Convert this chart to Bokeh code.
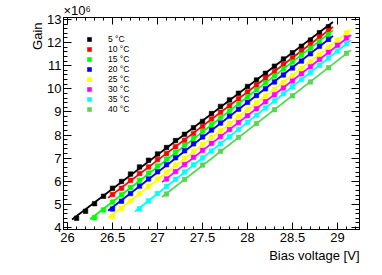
import numpy as np
from bokeh.plotting import figure
from bokeh.models import (Range1d, LinearAxis, FixedTicker, Legend,
                          LegendItem, Title)
from bokeh.embed import file_html
from bokeh.resources import INLINE

# ---------------- data ----------------
temperatures = ["5 °C", "10 °C", "15 °C", "20 °C", "25 °C", "30 °C", "35 °C", "40 °C"]
colors = ["#000000", "#ff0000", "#00ff00", "#0000ff", "#ffff00", "#ff00ff", "#00ffff", "#59d454"]

bias_grid = [26.1, 26.2, 26.3, 26.4, 26.5, 26.6, 26.7, 26.8, 26.9, 27.0,
             27.1, 27.2, 27.3, 27.4, 27.5, 27.6, 27.7, 27.8, 27.9, 28.0,
             28.1, 28.2, 28.3, 28.4, 28.5, 28.6, 28.7, 28.8, 28.9, 29.0, 29.1]

gain_5C = [4.40, 4.70, 5.03, 5.35, 5.70, 5.99, 6.31, 6.62, 6.91, 7.18,
           7.46, 7.76, 8.03, 8.32, 8.59, 8.93, 9.24, 9.52, 9.81, 10.10,
           10.38, 10.67, 10.98, 11.29, 11.56, 11.84, 12.11, 12.43, 12.69]
gain_10C = [5.43, 5.70, 6.04, 6.34, 6.62, 6.94, 7.20, 7.49, 7.77, 8.07,
            8.37, 8.70, 8.99, 9.27, 9.57, 9.86, 10.16, 10.46, 10.75, 11.06,
            11.35, 11.63, 11.93, 12.25, 12.52]
gain_15C = [4.42, 4.76, 5.10, 5.42, 5.73, 6.04, 6.36, 6.66, 6.96, 7.26,
            7.56, 7.86, 8.16, 8.46, 8.76, 9.06, 9.36, 9.66, 9.96, 10.26,
            10.56, 10.86, 11.16, 11.46, 11.76, 12.06, 12.35]
gain_20C = [4.80, 5.14, 5.47, 5.79, 6.10, 6.41, 6.72, 7.02, 7.32, 7.62,
            7.92, 8.22, 8.52, 8.82, 9.12, 9.42, 9.71, 10.00, 10.30, 10.60,
            10.90, 11.20, 11.52, 11.84, 12.14]
gain_25C = [4.48, 4.82, 5.15, 5.47, 5.79, 6.10, 6.40, 6.70, 7.00, 7.30,
            7.60, 7.90, 8.20, 8.50, 8.80, 9.10, 9.40, 9.69, 9.98, 10.28,
            10.58, 10.88, 11.18, 11.49, 11.80, 12.11, 12.42]
gain_30C = [6.10, 6.42, 6.73, 7.04, 7.34, 7.64, 7.94, 8.24, 8.54, 8.84,
            9.14, 9.44, 9.74, 10.04, 10.34, 10.65, 10.96, 11.27, 11.58, 11.89, 12.20]
gain_35C = [4.81, 5.15, 5.47, 5.78, 6.09, 6.40, 6.71, 7.01, 7.31, 7.62,
            7.93, 8.24, 8.55, 8.86, 9.17, 9.48, 9.79, 10.09, 10.40, 10.71,
            11.02, 11.33, 11.64, 11.95]
bias_40C = [27.1, 27.3, 27.5, 27.7, 27.9, 28.1, 28.3, 28.5, 28.7, 28.9, 29.1]
gain_40C = [5.45, 6.08, 6.70, 7.30, 7.90, 8.50, 9.10, 9.70, 10.30, 10.91, 11.54]

first_bias = [26.1, 26.5, 26.3, 26.5, 26.5, 27.1, 26.8]
gains = [gain_5C, gain_10C, gain_15C, gain_20C, gain_25C, gain_30C, gain_35C]

x_ticks = [26, 26.5, 27, 27.5, 28, 28.5, 29]
x_tick_labels = ["26", "26.5", "27", "27.5", "28", "28.5", "29"]
y_ticks = [4, 5, 6, 7, 8, 9, 10, 11, 12, 13]
y_tick_labels = ["4", "5", "6", "7", "8", "9", "10", "11", "12", "13"]

series_x = []
for fb, g in zip(first_bias, gains):
    i0 = bias_grid.index(fb)
    series_x.append(bias_grid[i0:i0 + len(g)])
series_x.append(bias_40C)
gains.append(gain_40C)

# ---------------- figure ----------------
FONT = "Liberation Sans"
p = figure(width=374, height=267, output_backend="svg", toolbar_location=None,
           x_range=Range1d(25.955, 29.245), y_range=Range1d(3.913, 13.087),
           x_axis_location=None, y_axis_location=None,
           min_border_left=63, min_border_right=15, min_border_top=17, min_border_bottom=38)
p.grid.visible = False
p.outline_line_color = "black"
p.outline_line_width = 1
p.background_fill_color = "white"
p.border_fill_color = "white"

x_minor = [round(25.9 + 0.1 * k, 1) for k in range(0, 35)]
y_minor = [round(3.8 + 0.2 * k, 1) for k in range(0, 48)]


def make_axis(ticks, minor, labels, tick_in, show_labels):
    ax = LinearAxis(ticker=FixedTicker(ticks=ticks, minor_ticks=minor))
    ax.axis_line_color = "black"
    ax.major_tick_line_color = "black"
    ax.minor_tick_line_color = "black"
    ax.major_tick_in = tick_in
    ax.major_tick_out = 0
    ax.minor_tick_in = tick_in // 2
    ax.minor_tick_out = 0
    if show_labels:
        ax.major_label_overrides = {t: l for t, l in zip(ticks, labels)}
        ax.major_label_text_font = FONT
        ax.major_label_text_font_size = "13px"
        ax.major_label_text_color = "black"
    else:
        ax.major_label_text_font_size = "0px"
        ax.major_label_standoff = 0
    return ax


xb = make_axis(x_ticks, x_minor, x_tick_labels, 7, True)
xb.major_label_standoff = 3
p.add_layout(xb, "below")
p.add_layout(make_axis(x_ticks, x_minor, x_tick_labels, 7, False), "above")
yl = make_axis(y_ticks, y_minor, y_tick_labels, 8, True)
yl.major_label_standoff = 2
p.add_layout(yl, "left")
p.add_layout(make_axis(y_ticks, y_minor, y_tick_labels, 8, False), "right")

items = []
for name, col, xs, ys in zip(temperatures, colors, series_x, gains):
    xs_a = np.array(xs)
    ys_a = np.array(ys)
    k, b = np.polyfit(xs_a, ys_a, 1)
    lx = np.array([xs_a[0] - 0.05, xs_a[-1] + 0.05])
    p.line(lx, k * lx + b, line_color=col, line_width=1.8)
    r = p.scatter(xs, ys, marker="square", size=4.5, fill_color=col, line_color=col,
                  line_width=0.6)
    items.append(LegendItem(label=name, renderers=[r]))

legend = Legend(items=items, location=(21, 115), glyph_width=10, glyph_height=10,
                label_height=10, spacing=0, padding=0, margin=0, label_standoff=14,
                border_line_color=None, background_fill_alpha=0,
                label_text_font=FONT, label_text_font_size="8.5px",
                label_text_color="black")
p.add_layout(legend)

p.add_layout(Title(text="Bias voltage [V]", align="right", standoff=3,
                   text_font=FONT, text_font_size="13px", text_font_style="normal",
                   text_color="black"), "below")
p.add_layout(Title(text="Gain", align="right", standoff=0, offset=5,
                   text_font=FONT, text_font_size="13px", text_font_style="normal",
                   text_color="black"), "left")
p.add_layout(Title(text="×10⁶", align="left", standoff=0,
                   text_font=FONT, text_font_size="13px", text_font_style="normal",
                   text_color="black"), "above")

open("out.html", "w").write(file_html(p, INLINE))
